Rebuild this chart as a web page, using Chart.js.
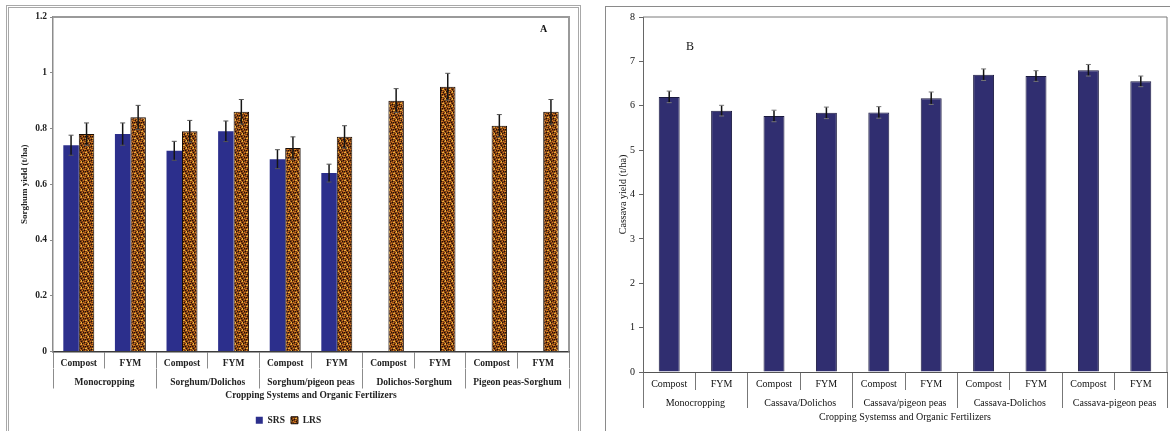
<!DOCTYPE html>
<html>
<head>
<meta charset="utf-8">
<script src="https://cdn.jsdelivr.net/npm/chart.js@4"></script>
<style>
  html, body { margin: 0; padding: 0; background: #fff; width: 1170px; height: 431px; overflow: hidden; }
  .frame { position: absolute; box-sizing: border-box; }
  #frameA { left: 6px; top: 5px; width: 575px; height: 440px; border: 3px double #a8a8a8; }
  #frameB { left: 605px; top: 6px; width: 580px; height: 440px; border: 1px solid #8a8a8a; }
  canvas { position: absolute; }
  #chartA { left: 8px; top: 7px; }
  #chartB { left: 606px; top: 7px; }
  .tag { position: absolute; font-family: "Liberation Serif", serif; color: #111; }
</style>
</head>
<body>
<div class="frame" id="frameA"></div>
<div class="frame" id="frameB"></div>
<canvas id="chartA" width="571" height="428"></canvas>
<canvas id="chartB" width="564" height="424"></canvas>
<div class="tag" style="left:540px;top:23px;font-size:10px;font-weight:bold;">A</div>
<div class="tag" style="left:686px;top:39px;font-size:12px;">B</div>
<script>
// categories
var fertilizers = ['Compost', 'FYM'];
var sorghumSystems = ['Monocropping', 'Sorghum/Dolichos', 'Sorghum/pigeon peas', 'Dolichos-Sorghum', 'Pigeon peas-Sorghum'];
var cassavaSystems = ['Monocropping', 'Cassava/Dolichos', 'Cassava/pigeon peas', 'Cassava-Dolichos', 'Cassava-pigeon peas'];

// sorghum yield (t/ha), panel A
var srsYield = [0.74, 0.78, 0.72, 0.79, 0.69, 0.64, null, null, null, null];
var srsError = [0.036, 0.04, 0.034, 0.037, 0.034, 0.032, null, null, null, null];
var lrsYield = [0.78, 0.84, 0.79, 0.86, 0.73, 0.77, 0.90, 0.95, 0.81, 0.86];
var lrsError = [0.04, 0.043, 0.039, 0.044, 0.04, 0.04, 0.043, 0.048, 0.04, 0.044];

// cassava yield (t/ha), panel B
var cassavaYield = [6.2, 5.89, 5.77, 5.84, 5.85, 6.17, 6.7, 6.67, 6.8, 6.55];
var cassavaError = [0.13, 0.12, 0.13, 0.13, 0.13, 0.14, 0.13, 0.12, 0.13, 0.12];

var sorghumTicks = { min: 0, max: 1.2, step: 0.2 };
var cassavaTicks = { min: 0, max: 8, step: 1 };

function fertLabels(systems) {
    var out = [];
    systems.forEach(function () { fertilizers.forEach(function (f) { out.push(f); }); });
    return out;
}

function plainNumber(v) {
    return String(Number(v.toFixed(1)));
}

var serif = '"Liberation Serif", "Times New Roman", serif';
Chart.defaults.font.family = serif;
Chart.defaults.color = '#111';

// error bars drawn from the y scale
var errorBars = {
    id: 'errorBars',
    afterDatasetsDraw: function (chart, args, opts) {
        var ctx = chart.ctx;
        var y = chart.scales.y;
        chart.data.datasets.forEach(function (ds, i) {
            if (!ds.errors) return;
            chart.getDatasetMeta(i).data.forEach(function (bar, j) {
                var v = ds.data[j], e = ds.errors[j];
                if (v == null || e == null) return;
                var top = y.getPixelForValue(v + e);
                var bot = y.getPixelForValue(v - e);
                ctx.save();
                ctx.strokeStyle = opts.color;
                ctx.lineWidth = opts.width;
                ctx.beginPath();
                ctx.moveTo(bar.x, top); ctx.lineTo(bar.x, bot);
                ctx.stroke();
                ctx.strokeStyle = opts.capColor;
                ctx.lineWidth = 1;
                ctx.beginPath();
                ctx.moveTo(bar.x - opts.cap, top); ctx.lineTo(bar.x + opts.cap, top);
                ctx.moveTo(bar.x - opts.cap, bot); ctx.lineTo(bar.x + opts.cap, bot);
                ctx.stroke();
                ctx.restore();
            });
        });
    }
};

// box around the plot area (top and right sides)
var plotBox = {
    id: 'plotBox',
    afterDraw: function (chart, args, opts) {
        var a = chart.chartArea, ctx = chart.ctx;
        ctx.save();
        ctx.strokeStyle = opts.color;
        ctx.lineWidth = opts.width;
        ctx.beginPath();
        ctx.moveTo(a.left, a.top);
        ctx.lineTo(a.right, a.top);
        ctx.lineTo(a.right, a.bottom);
        ctx.stroke();
        ctx.restore();
    }
};

// brown speckled fill for the LRS bars
function speckle(ctx) {
    var c = document.createElement('canvas');
    c.width = 7; c.height = 7;
    var p = c.getContext('2d');
    p.fillStyle = '#7e3f13'; p.fillRect(0, 0, 7, 7);
    p.fillStyle = '#d27a22';
    [[0, 0], [2, 1], [4, 3], [1, 4], [5, 5], [6, 2], [5, 1], [2, 6], [0, 2]].forEach(function (d) { p.fillRect(d[0], d[1], 1, 1); });
    p.fillStyle = '#1f0e04';
    [[1, 1], [4, 0], [0, 3], [3, 5], [5, 3], [6, 6], [2, 3]].forEach(function (d) { p.fillRect(d[0], d[1], 1, 1); });
    p.fillStyle = '#e9b23c';
    p.fillRect(3, 0, 1, 2);
    p.fillRect(0, 5, 2, 1);
    return ctx.createPattern(c, 'repeat');
}

// Panel A
var ctxA = document.getElementById('chartA').getContext('2d');
var boldA = { family: serif, size: 9.5, weight: 'bold' };
new Chart(ctxA, {
    type: 'bar',
    data: {
        labels: fertLabels(sorghumSystems),
        datasets: [{
            label: 'SRS',
            data: srsYield,
            errors: srsError,
            backgroundColor: '#2c2f8c',
            borderColor: '#23256e',
            borderWidth: 0,
            categoryPercentage: 0.6,
            barPercentage: 1.0
        }, {
            label: 'LRS',
            data: lrsYield,
            errors: lrsError,
            backgroundColor: speckle(ctxA),
            borderColor: '#1a0d04',
            borderWidth: 1,
            categoryPercentage: 0.6,
            barPercentage: 1.0
        }]
    },
    options: {
        responsive: false,
        animation: false,
        layout: { padding: { top: 10, right: 10, bottom: 0, left: 0 } },
        scales: {
            x: {
                weight: 0,
                grid: { offset: true, drawOnChartArea: false, drawTicks: true, tickLength: 17, color: '#8c8c8c' },
                border: { display: true, color: '#3c3c3c', width: 1.5 },
                ticks: { autoSkip: false, maxRotation: 0, padding: -11, font: boldA, color: '#222' },
                afterFit: function (s) { s.height = 17; }
            },
            x2: {
                type: 'category',
                position: 'bottom',
                weight: 1,
                labels: sorghumSystems,
                offset: true,
                grid: { offset: true, drawOnChartArea: false, drawTicks: true, tickLength: 20, color: '#8c8c8c' },
                border: { display: false },
                ticks: { autoSkip: false, maxRotation: 0, padding: -12, font: boldA, color: '#222' },
                title: { display: true, text: 'Cropping Systems and Organic Fertilizers', font: boldA, color: '#222', padding: { top: 0, bottom: 8 } },
                afterFit: function (s) { s.height = 41; }
            },
            y: {
                min: sorghumTicks.min,
                max: sorghumTicks.max,
                ticks: { stepSize: sorghumTicks.step, font: boldA, color: '#222', padding: 3, callback: plainNumber },
                grid: { drawOnChartArea: false, drawTicks: true, tickLength: 3, color: '#8c8c8c' },
                border: { display: true, color: '#8c8c8c', width: 1.5 },
                title: { display: true, text: 'Sorghum yield (t/ha)', font: { family: serif, size: 9, weight: 'bold' }, color: '#222', padding: { top: 11, bottom: 0 } },
                afterFit: function (s) { s.width = 45; }
            }
        },
        plugins: {
            legend: {
                position: 'bottom',
                labels: { boxWidth: 7, boxHeight: 7, padding: 6, font: boldA, color: '#222' }
            },
            tooltip: { enabled: false },
            errorBars: { color: '#151515', capColor: '#555', width: 1.5, cap: 2.5 },
            plotBox: { color: '#9a9a9a', width: 2 }
        }
    },
    plugins: [errorBars, plotBox]
});

// Panel B
var ctxB = document.getElementById('chartB').getContext('2d');
var fontB = { family: serif, size: 10 };
new Chart(ctxB, {
    type: 'bar',
    data: {
        labels: fertLabels(cassavaSystems),
        datasets: [{
            label: 'Cassava',
            data: cassavaYield,
            errors: cassavaError,
            backgroundColor: '#302e70',
            borderColor: '#1b1a40',
            borderWidth: 1,
            categoryPercentage: 0.4,
            barPercentage: 1.0
        }]
    },
    options: {
        responsive: false,
        animation: false,
        layout: { padding: { top: 10, right: 3, bottom: 8, left: 0 } },
        scales: {
            x: {
                weight: 0,
                grid: { offset: true, drawOnChartArea: false, drawTicks: true, tickLength: 18, color: '#777' },
                border: { display: true, color: '#555', width: 1 },
                ticks: { autoSkip: false, maxRotation: 0, padding: -12, font: fontB, color: '#111' },
                afterFit: function (s) { s.height = 18; }
            },
            x2: {
                type: 'category',
                position: 'bottom',
                weight: 1,
                labels: cassavaSystems,
                offset: true,
                grid: { offset: true, drawOnChartArea: false, drawTicks: true, tickLength: 18, color: '#777' },
                border: { display: false },
                ticks: { autoSkip: false, maxRotation: 0, padding: -11, font: fontB, color: '#111' },
                title: { display: true, text: 'Cropping Systemss and Organic Fertilizers', font: fontB, color: '#111', padding: { top: 0, bottom: 0 } },
                afterFit: function (s) { s.height = 33; }
            },
            y: {
                min: cassavaTicks.min,
                max: cassavaTicks.max,
                ticks: { stepSize: cassavaTicks.step, font: fontB, color: '#111', padding: 4, callback: plainNumber },
                grid: { drawOnChartArea: false, drawTicks: true, tickLength: 4, color: '#666' },
                border: { display: true, color: '#666', width: 1 },
                title: { display: true, text: 'Cassava yield (t/ha)', font: fontB, color: '#111', padding: { top: 11, bottom: 0 } },
                afterFit: function (s) { s.width = 37; }
            }
        },
        plugins: {
            legend: { display: false },
            tooltip: { enabled: false },
            errorBars: { color: '#111', capColor: '#777', width: 1.5, cap: 2.5 },
            plotBox: { color: '#7a7a7a', width: 1 }
        }
    },
    plugins: [errorBars, plotBox]
});
</script>
</body>
</html>
